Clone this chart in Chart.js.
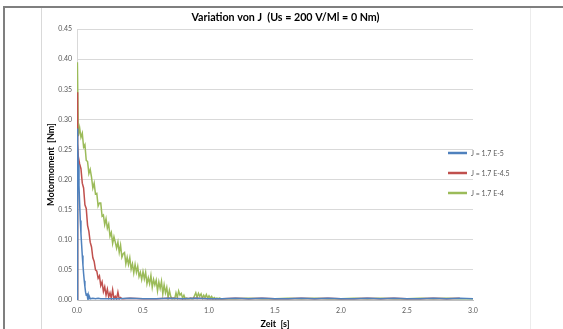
<!DOCTYPE html>
<html>
<head>
<meta charset="utf-8">
<script src="https://cdn.jsdelivr.net/npm/chart.js@4"></script>
<style>
  html, body { margin: 0; padding: 0; background: #fff; }
  #wrap { position: relative; width: 563px; height: 329px; overflow: hidden; }
  .ln { position: absolute; }
  #top { left: 3px; top: 6px; width: 560px; height: 2px; background: #7f7f7f; }
  #left { left: 3px; top: 6px; width: 2px; height: 323px; background: #7f7f7f; }
  #v1 { left: 41px; top: 8px; width: 1px; height: 321px; background: #d9d9d9; }
  #v2 { left: 530px; top: 8px; width: 1px; height: 321px; background: #ececec; }
  canvas { position: absolute; left: 0; top: 0; }
</style>
</head>
<body>
<div id="wrap">
  <div class="ln" id="top"></div>
  <div class="ln" id="left"></div>
  <div class="ln" id="v1"></div>
  <div class="ln" id="v2"></div>
  <canvas id="chart" width="563" height="329"></canvas>
</div>
<script>
// Beschriftungen
const titel = 'Variation von J  (Us = 200 V/Ml = 0 Nm)';
const xTitel = 'Zeit  [s]';
const yTitel = 'Motormoment  [Nm]';
const serienNamen = ['J = 1.7 E-5', 'J = 1.7 E-4.5', 'J = 1.7 E-4'];
const farben = ['#4f81bd', '#c0504d', '#9bbb59'];

// J = 1.7 E-5
const zeitBlau = [0, 0.003, 0.006, 0.01, 0.015, 0.02, 0.025, 0.03, 0.035, 0.04,
  0.045, 0.05, 0.055, 0.06, 0.065, 0.07, 0.075, 0.08, 0.085, 0.09,
  0.095, 0.1, 0.12, 0.14, 0.16, 0.18, 0.2,
  0.3, 0.4, 0.5, 0.6, 0.7, 0.8, 0.9, 1.0, 1.1, 1.2, 1.3, 1.4, 1.5, 1.6,
  1.7, 1.8, 1.9, 2.0, 2.1, 2.2, 2.3, 2.4, 2.5, 2.6, 2.7, 2.8, 2.9, 3.0];
const momentBlau = [0, 0.285, 0.26, 0.225, 0.19, 0.16, 0.132, 0.11, 0.092, 0.074,
  0.058, 0.044, 0.032, 0.022, 0.013, 0.008, 0.011, 0.004, 0.009, 0.003,
  0.005, 0.002, 0.003, 0.002, 0.003, 0.002, 0.002,
  0.002, 0.003, 0.002, 0.002, 0.003, 0.002, 0.003, 0.002, 0.002, 0.003, 0.002, 0.003, 0.002, 0.002,
  0.003, 0.002, 0.003, 0.002, 0.002, 0.003, 0.002, 0.003, 0.002, 0.002, 0.003, 0.002, 0.003, 0.002];

// J = 1.7 E-4.5
const zeitRot = [0, 0.003, 0.006,
  0.01, 0.02, 0.03, 0.04, 0.05, 0.06, 0.07, 0.08, 0.09, 0.10,
  0.11, 0.12, 0.13, 0.14, 0.15, 0.16, 0.17, 0.18, 0.19, 0.20,
  0.21, 0.22, 0.23, 0.24, 0.25, 0.26, 0.27, 0.28, 0.29, 0.30,
  0.31, 0.32, 0.33, 0.34, 0.35,
  0.4, 0.5, 0.6, 0.7, 0.8, 0.9, 1.0, 1.1, 1.2, 1.3, 1.4, 1.5, 1.6,
  1.7, 1.8, 1.9, 2.0, 2.1, 2.2, 2.3, 2.4, 2.5, 2.6, 2.7, 2.8, 2.9, 3.0];
const momentRot = [0, 0.345, 0.26,
  0.238, 0.226, 0.218, 0.194, 0.186, 0.158, 0.152, 0.124, 0.114, 0.096,
  0.088, 0.070, 0.064, 0.050, 0.048, 0.036, 0.040, 0.024, 0.030, 0.014,
  0.022, 0.008, 0.018, 0.005, 0.012, 0.003, 0.017, 0.002, 0.006, 0.002,
  0.013, 0.002, 0.004, 0.002, 0.002,
  0.003, 0.002, 0.002, 0.003, 0.002, 0.003, 0.002, 0.002, 0.003, 0.002, 0.003, 0.002, 0.002,
  0.003, 0.002, 0.003, 0.002, 0.002, 0.003, 0.002, 0.003, 0.002, 0.002, 0.003, 0.002, 0.003];

// J = 1.7 E-4
const zeitGruen = [0, 0.003,
  0.01, 0.02, 0.03, 0.04, 0.05, 0.06, 0.07, 0.08, 0.09, 0.10,
  0.11, 0.12, 0.13, 0.14, 0.15, 0.16, 0.17, 0.18, 0.19, 0.20,
  0.21, 0.22, 0.23, 0.24, 0.25, 0.26, 0.27, 0.28, 0.29, 0.30,
  0.31, 0.32, 0.33, 0.34, 0.35, 0.36, 0.37, 0.38, 0.39, 0.40,
  0.41, 0.42, 0.43, 0.44, 0.45, 0.46, 0.47, 0.48, 0.49, 0.50,
  0.51, 0.52, 0.53, 0.54, 0.55, 0.56, 0.57, 0.58, 0.59, 0.60,
  0.61, 0.62, 0.63, 0.64, 0.65, 0.66, 0.67, 0.68, 0.69, 0.70,
  0.71, 0.72, 0.73, 0.74, 0.75, 0.76, 0.77, 0.78, 0.79, 0.80,
  0.81, 0.82, 0.83, 0.84, 0.85, 0.86, 0.87, 0.88, 0.89, 0.90,
  0.91, 0.92, 0.93, 0.94, 0.95, 0.96, 0.97, 0.98, 0.99, 1.00,
  1.01, 1.02, 1.03, 1.04, 1.05, 1.06, 1.07, 1.08, 1.09, 1.10,
  1.2, 1.3, 1.4, 1.5, 1.6, 1.7, 1.8, 1.9, 2.0, 2.1,
  2.2, 2.3, 2.4, 2.5, 2.6, 2.7, 2.8, 2.9, 3.0];
const momentGruen = [0, 0.395,
  0.272, 0.286, 0.270, 0.277, 0.254, 0.258, 0.232, 0.230, 0.210, 0.217,
  0.204, 0.186, 0.194, 0.176, 0.177, 0.156, 0.161, 0.161, 0.139, 0.141,
  0.125, 0.135, 0.119, 0.126, 0.106, 0.112, 0.094, 0.105, 0.096, 0.086,
  0.096, 0.079, 0.091, 0.071, 0.077, 0.079, 0.060, 0.071, 0.059, 0.070,
  0.051, 0.060, 0.045, 0.059, 0.046, 0.056, 0.039, 0.046, 0.034, 0.047,
  0.035, 0.046, 0.027, 0.037, 0.027, 0.041, 0.021, 0.034, 0.025, 0.033,
  0.015, 0.030, 0.019, 0.031, 0.010, 0.025, 0.012, 0.021, 0.004, 0.016,
  0.006, 0.002, 0.003, 0.002, 0.012, 0.004, 0.015, 0.008, 0.011, 0.003,
  0.008, 0.002, 0.003, 0.002, 0.002, 0.003, 0.002, 0.002, 0.007, 0.012,
  0.004, 0.011, 0.006, 0.010, 0.003, 0.008, 0.004, 0.009, 0.003, 0.007,
  0.003, 0.006, 0.002, 0.004, 0.002, 0.003, 0.002, 0.003, 0.002, 0.002,
  0.002, 0.003, 0.002, 0.002, 0.003, 0.002, 0.003, 0.002, 0.002, 0.003,
  0.002, 0.003, 0.002, 0.002, 0.003, 0.002, 0.003, 0.002, 0.002];

// Achsen
const xMin = 0, xMax = 3.0, xSchritt = 0.5;
const yMin = 0, yMax = 0.45, ySchritt = 0.05;

const schrift = 'Lato, "Open Sans", sans-serif';

function punkte(zeit, werte) {
  return zeit.map((t, i) => ({ x: t, y: werte[i] }));
}

// Legende wie in Excel, rechts im Diagramm
const legendePlugin = {
  id: 'excelLegende',
  afterDraw(chart) {
    const ctx = chart.ctx;
    const x0 = chart.chartArea.right - 25;
    ctx.save();
    ctx.font = '7px ' + schrift;
    ctx.textBaseline = 'middle';
    chart.data.datasets.forEach((ds, i) => {
      const y = 153 + i * 20;
      ctx.strokeStyle = ds.borderColor;
      ctx.lineWidth = 2.5;
      ctx.beginPath();
      ctx.moveTo(x0, y);
      ctx.lineTo(x0 + 19, y);
      ctx.stroke();
      ctx.fillStyle = '#595959';
      ctx.fillText(ds.label, x0 + 23, y + 0.5);
    });
    ctx.restore();
  }
};

new Chart(document.getElementById('chart'), {
  type: 'line',
  data: {
    datasets: [
      { label: serienNamen[0], data: punkte(zeitBlau, momentBlau), borderColor: farben[0], backgroundColor: farben[0] },
      { label: serienNamen[1], data: punkte(zeitRot, momentRot), borderColor: farben[1], backgroundColor: farben[1] },
      { label: serienNamen[2], data: punkte(zeitGruen, momentGruen), borderColor: farben[2], backgroundColor: farben[2] }
    ]
  },
  options: {
    responsive: false,
    animation: false,
    layout: { padding: { left: 41, right: 33, top: 0, bottom: 0 } },
    elements: {
      point: { radius: 0 },
      line: { borderWidth: 1.5, tension: 0 }
    },
    plugins: {
      legend: { display: false },
      tooltip: { enabled: false },
      title: {
        display: true,
        text: titel,
        color: '#000',
        font: { family: schrift, size: 10.7, weight: 'bold' },
        padding: { top: 11, bottom: 5.2 }
      }
    },
    scales: {
      x: {
        type: 'linear',
        min: xMin,
        max: xMax,
        afterFit(s) { s.height = 29; },
        ticks: {
          stepSize: xSchritt,
          padding: 7,
          color: '#595959',
          font: { family: schrift, size: 7 },
          callback: v => v.toFixed(1),
          maxRotation: 0
        },
        grid: { display: false, drawTicks: false },
        border: { display: true, color: '#bfbfbf' },
        title: {
          display: true,
          text: xTitel,
          color: '#000',
          font: { family: schrift, size: 9, weight: 'bold' },
          padding: { top: 0, bottom: 0 }
        }
      },
      y: {
        min: yMin,
        max: yMax,
        afterFit(s) { s.width = 36; },
        ticks: {
          stepSize: ySchritt,
          padding: 5,
          color: '#595959',
          font: { family: schrift, size: 7 },
          callback: v => v.toFixed(2)
        },
        grid: { color: '#d9d9d9', lineWidth: 1, drawTicks: false },
        border: { display: true, color: '#d9d9d9' },
        title: {
          display: true,
          text: yTitel,
          color: '#000',
          font: { family: schrift, size: 9, weight: 'bold' },
          padding: { top: 5, bottom: 0 }
        }
      },
      // leerer Platz rechts für die Legende
      rechts: {
        position: 'right',
        display: true,
        afterFit(s) { s.width = 57; },
        ticks: { display: false },
        grid: { display: false, drawTicks: false },
        border: { display: false }
      }
    }
  },
  plugins: [legendePlugin]
});
</script>
</body>
</html>
